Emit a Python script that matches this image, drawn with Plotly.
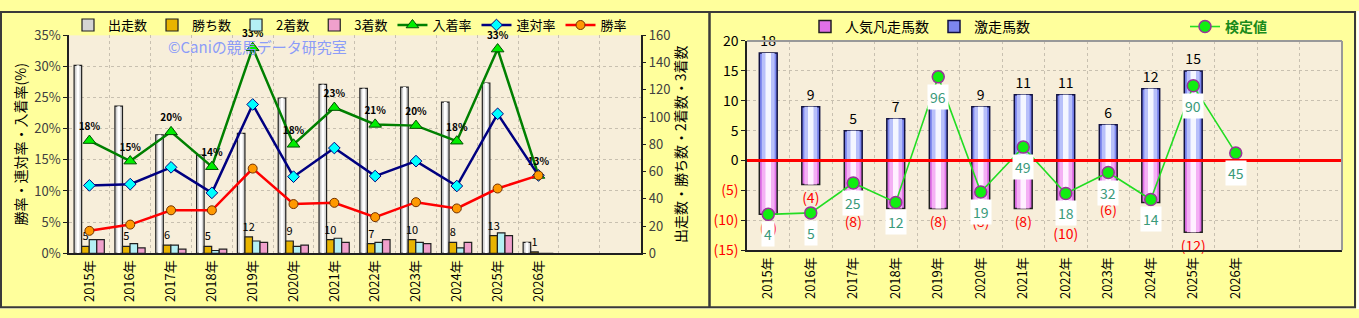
import plotly.graph_objects as go

# ---------------- data ----------------
years = ["2015年", "2016年", "2017年", "2018年", "2019年", "2020年",
         "2021年", "2022年", "2023年", "2024年", "2025年", "2026年"]

runs = [138, 108, 87, 72, 88, 114, 124, 121, 122, 111, 125, 8]
wins = [5, 5, 6, 5, 12, 9, 10, 7, 10, 8, 13, 1]
seconds = [10, 7, 6, 2, 9, 5, 11, 8, 8, 4, 15, 0]
thirds = [10, 4, 3, 3, 8, 6, 8, 10, 7, 8, 13, 0]

place_rate = [18.1, 14.8, 19.5, 13.9, 33.0, 17.5, 23.4, 20.7, 20.5, 18.0, 32.8, 12.5]
quinella_rate = [10.9, 11.1, 13.8, 9.7, 23.9, 12.3, 16.9, 12.4, 14.8, 10.8, 22.4, 12.5]
win_rate = [3.6, 4.6, 6.9, 6.9, 13.6, 7.9, 8.1, 5.8, 8.2, 7.2, 10.4, 12.5]
place_labels = ["18%", "15%", "20%", "14%", "33%", "18%", "23%", "21%", "20%", "18%", "33%", "13%"]

hot = [18, 9, 5, 7, 9, 9, 11, 11, 6, 12, 15, None]
flop = [-9, -4, -8, -8, -8, -8, -8, -10, -6, -7, -12, None]
score = [4, 5, 25, 12, 96, 19, 49, 18, 32, 14, 90, 45]

left_ticks = [0, 5, 10, 15, 20, 25, 30, 35]
right_ticks = [-15, -10, -5, 0, 5, 10, 15, 20]

# ---------------- derived ----------------
xi = list(range(len(years)))
n_slots = 14
FONT = "Noto Sans CJK JP"
W, H = 1359, 318

def px_x(p):
    return p / W

def px_y(p):
    return (H - p) / H

fig = go.Figure()

# ---------- left chart: bars (count axis y, right side) ----------
bw = 0.185
bar_specs = [
    ("出走数", runs, "#D4D4D4", -0.375),
    ("勝ち数", wins, "#E8B400", -0.19),
    ("2着数", seconds, "#B4F0F4", -0.005),
    ("3着数", thirds, "#F0A0CC", 0.18),
]
for name, vals, col, off in bar_specs:
    kw = {}
    if name == "勝ち数":
        kw = dict(text=[str(v) for v in vals], textposition="outside",
                  textfont=dict(size=11, color="#000", family=FONT),
                  constraintext="none", cliponaxis=False)
    fig.add_trace(go.Bar(
        x=xi, y=vals, name=name, width=bw, offset=off,
        marker=dict(color=col, line=dict(color="#202020", width=1.2)),
        xaxis="x", yaxis="y", legend="legend", **kw))
# highlight strip on 出走数 bars (cylinder look)
fig.add_trace(go.Bar(
    x=xi, y=runs, width=0.07, offset=-0.375 + 0.06,
    marker=dict(color="#FFFFFF", line=dict(width=0)),
    xaxis="x", yaxis="y", showlegend=False, hoverinfo="skip"))

# ---------- left chart: lines (percent axis y2, left side) ----------
fig.add_trace(go.Scatter(
    x=xi, y=place_rate, name="入着率", mode="lines+markers+text",
    line=dict(color="#008000", width=2.5),
    marker=dict(symbol="triangle-up", size=11, color="#00EE00",
                line=dict(color="#005000", width=1)),
    text=place_labels, textposition="top center",
    textfont=dict(size=10, color="#000", family=FONT, weight="bold"),
    xaxis="x", yaxis="y2", legend="legend", cliponaxis=False))
fig.add_trace(go.Scatter(
    x=xi, y=quinella_rate, name="連対率", mode="lines+markers",
    line=dict(color="#000080", width=2.5),
    marker=dict(symbol="diamond", size=9, color="#00FFFF",
                line=dict(color="#000080", width=1)),
    xaxis="x", yaxis="y2", legend="legend"))
fig.add_trace(go.Scatter(
    x=xi, y=win_rate, name="勝率", mode="lines+markers",
    line=dict(color="#FF0000", width=2.5),
    marker=dict(symbol="circle", size=9, color="#FF9900",
                line=dict(color="#703000", width=1)),
    xaxis="x", yaxis="y2", legend="legend"))

# ---------- right chart: bars ----------
flop_text = ["(%d)" % (-v) if v is not None else "" for v in flop]
hot_text = [str(v) if v is not None else "" for v in hot]

fig.add_trace(go.Bar(
    x=xi, y=flop, name="人気凡走馬数", width=0.42,
    marker=dict(color="#E070E8", line=dict(color="#202020", width=1.5)),
    text=flop_text, textposition="outside", constraintext="none", cliponaxis=False,
    textfont=dict(size=14, color="#FF0000", family=FONT),
    xaxis="x2", yaxis="y3", legend="legend2"))
fig.add_trace(go.Bar(
    x=xi, y=flop, width=0.30, marker=dict(color="#F4B0F4", line=dict(width=0)),
    xaxis="x2", yaxis="y3", showlegend=False, hoverinfo="skip"))
fig.add_trace(go.Bar(
    x=xi, y=flop, width=0.13, marker=dict(color="#FFF0FF", line=dict(width=0)),
    xaxis="x2", yaxis="y3", showlegend=False, hoverinfo="skip"))

fig.add_trace(go.Bar(
    x=xi, y=hot, name="激走馬数", width=0.42,
    marker=dict(color="#7C86EE", line=dict(color="#101040", width=1.5)),
    text=hot_text, textposition="outside", constraintext="none", cliponaxis=False,
    textfont=dict(size=14, color="#000", family=FONT),
    xaxis="x2", yaxis="y3", legend="legend2"))
fig.add_trace(go.Bar(
    x=xi, y=hot, width=0.30, marker=dict(color="#B8C0FA", line=dict(width=0)),
    xaxis="x2", yaxis="y3", showlegend=False, hoverinfo="skip"))
fig.add_trace(go.Bar(
    x=xi, y=hot, width=0.13, marker=dict(color="#F4F6FF", line=dict(width=0)),
    xaxis="x2", yaxis="y3", showlegend=False, hoverinfo="skip"))

fig.add_trace(go.Scatter(
    x=xi, y=score, name="検定値", mode="lines+markers",
    line=dict(color="#22DD22", width=1.6),
    marker=dict(symbol="circle", size=12, color="#11EE11",
                line=dict(color="#993399", width=1.5)),
    xaxis="x2", yaxis="y4", legend="legend3", cliponaxis=False))

annotations = []
for i, v in zip(xi, score):
    annotations.append(dict(
        x=i, y=v, xref="x2", yref="y4", text=str(v), showarrow=False,
        yshift=-20, bgcolor="#FFFFFF", borderpad=2,
        font=dict(size=14, color="#3A9A7A", family=FONT)))
annotations.append(dict(
    x=px_x(257), y=px_y(38), xref="paper", yref="paper",
    xanchor="center", yanchor="middle",
    text="©Caniの競馬データ研究室", showarrow=False,
    font=dict(size=15, color="#8C9CF8", family=FONT)))

grid_col = "#C8C0B0"
boundaries = [i - 0.5 for i in range(n_slots + 1)]
xcommon = dict(
    range=[-0.5, n_slots - 0.5], tickmode="array", tickvals=xi, ticktext=years,
    tickangle=-90, tickfont=dict(size=13, color="#000", family=FONT),
    showgrid=False, zeroline=False, ticks="",
    showline=True, linecolor="#202020", linewidth=1.5,
    minor=dict(tickmode="array", tickvals=boundaries, showgrid=True,
               gridcolor=grid_col, griddash="dot", gridwidth=1, ticks=""),
)

shapes = [
    dict(type="line", xref="x2 domain", yref="y3", x0=0, x1=1, y0=0, y1=0,
         line=dict(color="#FF0000", width=3), layer="above"),
    dict(type="line", xref="x2 domain", yref="y3 domain", x0=0, x1=1, y0=1, y1=1,
         line=dict(color="#999999", width=2), layer="above"),
    dict(type="line", xref="x2 domain", yref="y3 domain", x0=1, x1=1, y0=0, y1=1,
         line=dict(color="#999999", width=2), layer="above"),
    dict(type="rect", xref="paper", yref="paper", x0=px_x(1), x1=px_x(1355),
         y0=px_y(316), y1=px_y(1), line=dict(color="#3A3A3A", width=2)),
    dict(type="line", xref="paper", yref="paper", x0=px_x(709.5), x1=px_x(709.5),
         y0=px_y(316), y1=px_y(1), line=dict(color="#3A3A3A", width=2.5)),
    dict(type="rect", xref="paper", yref="paper", x0=px_x(1356.5), x1=1,
         y0=0, y1=1, fillcolor="#FFFFFF", line=dict(width=0), layer="below"),
    dict(type="rect", xref="paper", yref="paper", x0=0, x1=1,
         y0=0, y1=px_y(317.5), fillcolor="#FFFFFF", line=dict(width=0), layer="below"),
]

fig.update_layout(
    width=W, height=H, margin=dict(l=0, r=0, t=0, b=0),
    paper_bgcolor="#FFFF9C", plot_bgcolor="#F7EEDA",
    font=dict(family=FONT, size=13, color="#000"),
    barmode="overlay",
    xaxis=dict(domain=[px_x(69), px_x(640.5)], anchor="y", **xcommon),
    yaxis=dict(domain=[px_y(258.5), px_y(26)], anchor="x", side="right",
               range=[0, 160], tickmode="linear", tick0=0, dtick=20,
               showgrid=False, zeroline=False, showline=True,
               linecolor="#202020", linewidth=1.5, ticks="outside", ticklen=4,
               tickcolor="#202020",
               tickfont=dict(size=13, color="#404040", family=FONT),
               title=dict(text="出走数・勝ち数・2着数・3着数", standoff=6,
                          font=dict(size=14, color="#000", family=FONT))),
    yaxis2=dict(overlaying="y", anchor="x", side="left", range=[0, 35],
                tickmode="array", tickvals=left_ticks,
                ticktext=["%d%%" % t for t in left_ticks],
                showgrid=True, gridcolor=grid_col, griddash="dot", zeroline=False,
                showline=True, linecolor="#202020", linewidth=1.5,
                ticks="outside", ticklen=4, tickcolor="#202020",
                tickfont=dict(size=13, color="#404040", family=FONT),
                title=dict(text="勝率・連対率・入着率(%)", standoff=4,
                           font=dict(size=14, color="#000", family=FONT))),
    xaxis2=dict(domain=[px_x(747), px_x(1342)], anchor="y3", **xcommon),
    yaxis3=dict(domain=[px_y(255.3), px_y(32)], anchor="x2", range=[-15, 20],
                tickmode="array", tickvals=right_ticks,
                ticktext=[('<span style="color:#FF0000">(%d)</span>' % (-t)) if t < 0 else str(t)
                          for t in right_ticks],
                showgrid=True, gridcolor=grid_col, griddash="dot", zeroline=False,
                showline=True, linecolor="#202020", linewidth=1.5,
                ticks="outside", ticklen=4, tickcolor="#202020",
                tickfont=dict(size=14, color="#000", family=FONT)),
    yaxis4=dict(overlaying="y3", anchor="x2", range=[-20, 120], visible=False),
    legend=dict(orientation="h", x=px_x(68), y=px_y(15), xanchor="left", yanchor="middle",
                bgcolor="rgba(0,0,0,0)", font=dict(size=13, color="#000", family=FONT),
                itemwidth=30, tracegroupgap=0),
    legend2=dict(orientation="h", x=px_x(805), y=px_y(17), xanchor="left", yanchor="middle",
                 bgcolor="rgba(0,0,0,0)", font=dict(size=14, color="#000", family=FONT),
                 itemwidth=30),
    legend3=dict(orientation="h", x=px_x(1185), y=px_y(17), xanchor="left", yanchor="middle",
                 bgcolor="rgba(0,0,0,0)",
                 font=dict(size=14, color="#1A8A1A", family=FONT, weight="bold"),
                 itemwidth=30),
    annotations=annotations,
    shapes=shapes,
)

fig.write_html("out.html")
